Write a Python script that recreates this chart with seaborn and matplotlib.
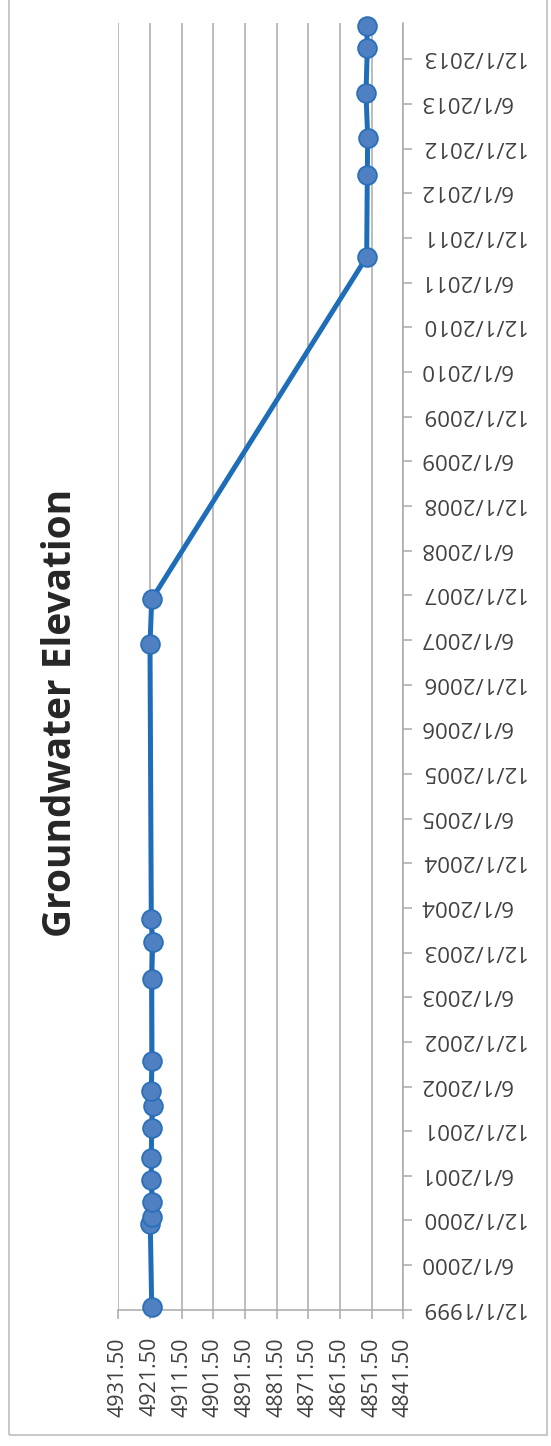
import datetime as dt

import matplotlib
matplotlib.use("Agg")
import matplotlib.pyplot as plt
import matplotlib.dates as mdates
from matplotlib.patches import Rectangle
from matplotlib.ticker import FixedLocator, FuncFormatter
import pandas as pd
import seaborn as sns

# Groundwater elevation readings (ft) by sample date
sample_dates = [
    "1999-12-15", "2000-11-15", "2000-12-15", "2001-02-15", "2001-05-15",
    "2001-08-15", "2001-12-15", "2002-03-15", "2002-05-15", "2002-09-15",
    "2003-08-15", "2004-01-15", "2004-04-15", "2007-05-15", "2007-11-15",
    "2011-09-15", "2012-08-15", "2013-01-15", "2013-07-15", "2014-01-15",
    "2014-04-15",
]
elevations = [
    4920.95, 4921.40, 4920.95, 4920.76, 4921.08,
    4921.08, 4920.95, 4920.64, 4921.08, 4920.86,
    4920.95, 4920.64, 4921.08, 4921.49, 4920.95,
    4853.06, 4852.87, 4852.74, 4853.28, 4852.87,
    4853.06,
]

date_tick_labels = [
    "12/1/1999", "6/1/2000", "12/1/2000", "6/1/2001", "12/1/2001",
    "6/1/2002", "12/1/2002", "6/1/2003", "12/1/2003", "6/1/2004",
    "12/1/2004", "6/1/2005", "12/1/2005", "6/1/2006", "12/1/2006",
    "6/1/2007", "12/1/2007", "6/1/2008", "12/1/2008", "6/1/2009",
    "12/1/2009", "6/1/2010", "12/1/2010", "6/1/2011", "12/1/2011",
    "6/1/2012", "12/1/2012", "6/1/2013", "12/1/2013",
]
elevation_ticks = [4931.50, 4921.50, 4911.50, 4901.50, 4891.50,
                   4881.50, 4871.50, 4861.50, 4851.50, 4841.50]

title_text = "Groundwater Elevation"

df = pd.DataFrame({
    "date": pd.to_datetime(sample_dates),
    "elevation": elevations,
})

sns.set_theme(style="white")
plt.rcParams["font.family"] = ["Open Sans", "DejaVu Sans"]

W, H = 551, 1446
fig = plt.figure(figsize=(W / 100, H / 100), dpi=100)
fig.patch.set_facecolor("white")

grid_col = "#A9A9AD"
ax = fig.add_axes([118.3 / W, (H - 1310) / H, 285 / W, (1310 - 22.7) / H])

sns.lineplot(
    data=df, x="elevation", y="date", ax=ax,
    orient="y", sort=False, estimator=None,
    color="#1E6DB8", linewidth=3.6,
    marker="o", markersize=13.5,
    markerfacecolor="#4F80C1", markeredgecolor="#2A6FBA", markeredgewidth=1.3,
    zorder=3, clip_on=False,
)

# value axis (runs left-to-right from high to low)
ax.set_xlim(elevation_ticks[0], elevation_ticks[-1])
ax.xaxis.set_major_locator(FixedLocator(elevation_ticks))
ax.xaxis.set_major_formatter(FuncFormatter(lambda v, p: f"{v:.2f}"))
ax.grid(axis="x", color=grid_col, linewidth=1.1)
ax.grid(axis="y", visible=False)

# date axis on the right
tick_dates = [dt.datetime.strptime(s, "%m/%d/%Y") for s in date_tick_labels]
ax.set_ylim(dt.datetime(1999, 12, 1), dt.datetime(2014, 4, 30))
ax.yaxis.set_major_locator(FixedLocator(mdates.date2num(tick_dates)))
ax.yaxis.set_major_formatter(FuncFormatter(
    lambda v, p: date_tick_labels[p] if p is not None and p < len(date_tick_labels) else ""))
ax.yaxis.tick_right()

ax.set_xlabel("")
ax.set_ylabel("")

for side in ("left", "top"):
    ax.spines[side].set_visible(False)
for side in ("right", "bottom"):
    ax.spines[side].set_color(grid_col)
    ax.spines[side].set_linewidth(1.1)

ax.tick_params(axis="x", direction="out", length=6.5, width=1.1, color=grid_col,
               pad=13, labelsize=15.5, labelcolor="#404040", bottom=True)
ax.tick_params(axis="y", direction="out", length=6.5, width=1.1, color=grid_col,
               pad=5, labelsize=16, labelcolor="#404040", right=True, left=False)

for lab in ax.get_xticklabels():
    lab.set_rotation(90)
    lab.set_ha("center")
    lab.set_va("top")
for lab in ax.get_yticklabels():
    lab.set_rotation(180)
    lab.set_rotation_mode("anchor")
    lab.set_ha("right")
    lab.set_va("center_baseline")

fig.text(61 / W, 1 - 713 / H, title_text, rotation=90, ha="center", va="center",
         fontsize=28, fontweight="bold", color="#262626")

# chart area border
fig.patches.append(Rectangle((9 / W, (H - 1435) / H), (547.3 - 9) / W, 1.0,
                             transform=fig.transFigure, fill=False,
                             edgecolor="#BDBDC1", linewidth=1.2, zorder=0))

fig.savefig("out.png", dpi=100, facecolor="white")
